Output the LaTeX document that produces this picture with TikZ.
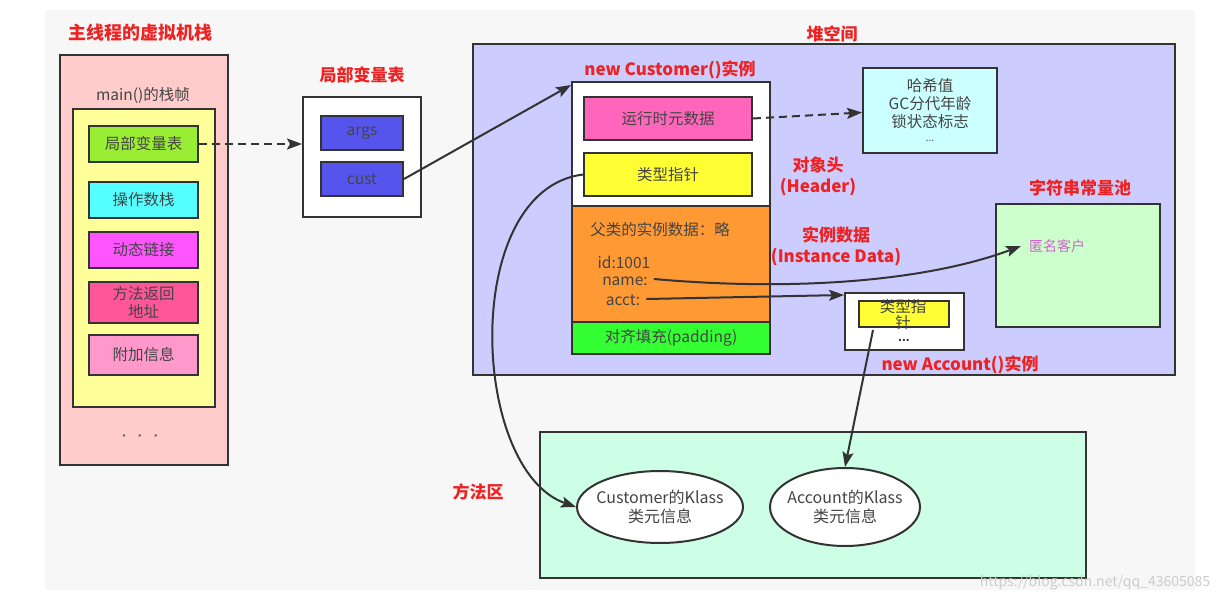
\documentclass[tikz,border=0pt]{standalone}
\usepackage{fontspec}
\setmainfont{Noto Sans CJK SC}
\usetikzlibrary{arrows.meta,shapes.geometric,calc}
\definecolor{bd}{HTML}{333333}
\definecolor{redt}{HTML}{EE2222}
\definecolor{txt}{HTML}{444444}
\definecolor{bgc}{HTML}{F7F7F7}
\definecolor{cstack}{HTML}{FFCCCC}
\definecolor{cframe}{HTML}{FFFF99}
\definecolor{clvt}{HTML}{99EE33}
\definecolor{cops}{HTML}{55FFFF}
\definecolor{cdyn}{HTML}{FF55FF}
\definecolor{cret}{HTML}{FF5599}
\definecolor{cadd}{HTML}{FF99CC}
\definecolor{cvar}{HTML}{5555EE}
\definecolor{cheap}{HTML}{CCCCFF}
\definecolor{cpad}{HTML}{33FF33}
\definecolor{cinst}{HTML}{FF9933}
\definecolor{cmeta}{HTML}{FF66BB}
\definecolor{cptr}{HTML}{FFFF33}
\definecolor{chash}{HTML}{CCFFFF}
\definecolor{csp}{HTML}{CCFFCC}
\definecolor{canon}{HTML}{CC66CC}
\definecolor{cma}{HTML}{CCFFE6}
\tikzset{
  box/.style={draw=bd,line width=2pt,inner sep=0pt,align=center,text=txt,font=\fontsize{15.5}{17}\selectfont},
  title/.style={text=redt,font=\bfseries\fontsize{17}{20}\selectfont,align=center,inner sep=0pt},
  plain/.style={text=txt,font=\fontsize{15.5}{17}\selectfont,inner sep=0pt},
  arr/.style={draw=bd,line width=2pt,-{Stealth[length=15pt,width=11pt,inset=3pt]}},
  darr/.style={arr,dash pattern=on 8pt off 5pt},
  ell/.style={draw=bd,line width=2pt,ellipse,fill=white,inner xsep=-16pt,inner ysep=-5pt,align=center,text=txt,font=\fontsize{16}{19}\selectfont}
}
\begin{document}
\begin{tikzpicture}[x=1pt,y=-1pt]
\useasboundingbox (0,0) rectangle (1227,602);
\fill[white] (0,0) rectangle (1227,602);
\fill[bgc] (45,10) rectangle (1195,590);
% stack
\node[title,font=\bfseries\fontsize{18}{20}\selectfont] (stt) at (140,33) {主线程的虚拟机栈};
\node[box,fill=cstack,minimum width=168pt,minimum height=410pt] (stack) at (144,260) {};
\node[plain] (frt) at (143,95) {main()的栈帧};
\node[box,fill=cframe,minimum width=142pt,minimum height=298pt] (frame) at (144,258) {};
\node[box,fill=clvt,minimum width=109pt,minimum height=36pt] (lvt) at (143.5,144) {局部变量表};
\node[box,fill=cops,minimum width=109pt,minimum height=36pt] (ops) at (143.5,200) {操作数栈};
\node[box,fill=cdyn,minimum width=109pt,minimum height=36pt] (dyn) at (143.5,250) {动态链接};
\node[box,fill=cret,minimum width=109pt,minimum height=41pt,font=\fontsize{15.5}{18}\selectfont] (ret) at (143.5,302.5) {方法返回\\地址};
\node[box,fill=cadd,minimum width=109pt,minimum height=40pt] (add) at (143.5,355) {附加信息};
\node[text=txt!80,font=\fontsize{12}{14}\selectfont,inner sep=0pt] (dots) at (140,438) {•\,\,•\,\,•};
% local variable table
\node[title] (lvtt) at (362,75) {局部变量表};
\node[box,fill=white,minimum width=118pt,minimum height=120pt] (lvbox) at (362,157) {};
\node[box,fill=cvar,minimum width=82pt,minimum height=34pt] (args) at (362,133) {args};
\node[box,fill=cvar,minimum width=82pt,minimum height=34pt] (cust) at (362,179) {cust};
% heap
\node[title] (heapt) at (832,34) {堆空间};
\node[box,fill=cheap,minimum width=702pt,minimum height=331pt] (heap) at (824,209.5) {};
\node[title] (custt) at (670,70) {new Customer()实例};
\node[box,fill=white,minimum width=198pt,minimum height=124pt] (hdr) at (671,144) {};
\node[box,fill=cinst,minimum width=198pt,minimum height=116pt] (inst) at (671,264) {};
\node[box,fill=cpad,minimum width=198pt,minimum height=32pt] (pad) at (671,338) {对齐填充(padding)};
\node[box,fill=cmeta,minimum width=168pt,minimum height=43pt] (meta) at (668,118.5) {运行时元数据};
\node[box,fill=cptr,minimum width=168pt,minimum height=43pt] (tp) at (668,174.5) {类型指针};
\node[plain] (par) at (660,230) {父类的实例数据：略};
\node[plain] (id) at (624,262) {id:1001};
\node[plain] (nm) at (625,281) {name:};
\node[plain] (ac) at (623,300) {acct:};
\node[box,fill=chash,minimum width=134pt,minimum height=85pt,font=\fontsize{15.5}{18}\selectfont] (hash) at (930,110.5) {哈希值\\GC分代年龄\\锁状态标志\\[-4pt]{\fontsize{10}{10}\selectfont ...}};
\node[title,font=\bfseries\fontsize{17}{21}\selectfont] (hdrt) at (818,176) {对象头\\(Header)};
\node[title,font=\bfseries\fontsize{17}{21}\selectfont] (instt) at (836,246) {实例数据\\(Instance Data)};
\node[title] (spt) at (1080,188) {字符串常量池};
\node[box,fill=csp,minimum width=164pt,minimum height=123pt] (sp) at (1078,265.5) {};
\node[text=canon,font=\fontsize{14}{16}\selectfont,inner sep=0pt,anchor=west] (anon) at (1029,246) {匿名客户};
\node[box,fill=white,minimum width=119pt,minimum height=57pt] (accb) at (904.5,321.5) {};
\node[box,fill=cptr,minimum width=90pt,minimum height=26pt] (accp) at (904,314) {};
\node[plain,align=center,font=\fontsize{15.5}{16}\selectfont] (acct) at (903,315) {类型指\\针};
\node[text=bd,font=\bfseries\fontsize{11}{11}\selectfont,inner sep=0pt] (accd) at (904,340) {...};
\node[title] (acctt) at (960,365) {new Account()实例};
% method area
\node[title] (mat) at (478,492) {方法区};
\node[box,fill=cma,minimum width=546pt,minimum height=146pt] (ma) at (813,505) {};
\node[ell,minimum width=166pt,minimum height=72pt] (ck) at (660,507) {Customer的Klass\\类元信息};
\node[ell,minimum width=150pt,minimum height=78pt] (ak) at (845,507) {Account的Klass\\类元信息};
% watermark
\node[text=gray!40,font=\fontsize{14}{16}\selectfont,inner sep=0pt] (wm) at (1095,583) {https://blog.csdn.net/qq\_43605085};
% connectors
\draw[darr] (lvt.east) -- (lvt.east -| lvbox.west);
\draw[arr] (cust.east) -- ($(hdr.north west)+(0,4)$);
\draw[darr] (meta.east) -- ($(hash.west)+(0,2)$);
\draw[arr] ($(nm.east)+(6,-2)$) .. controls (800,292) and (930,280) .. ($(anon.west)+(-8,0)$);
\draw[arr] ($(ac.east)+(6,-1)$) -- ($(accb.north west)+(0,3)$);
\draw[arr] (tp.west) .. controls (460,190) and (470,470) .. (ck.west);
\draw[arr] ($(accp.south)+(-31,2)$) -- (ak.north);
\end{tikzpicture}
\end{document}
